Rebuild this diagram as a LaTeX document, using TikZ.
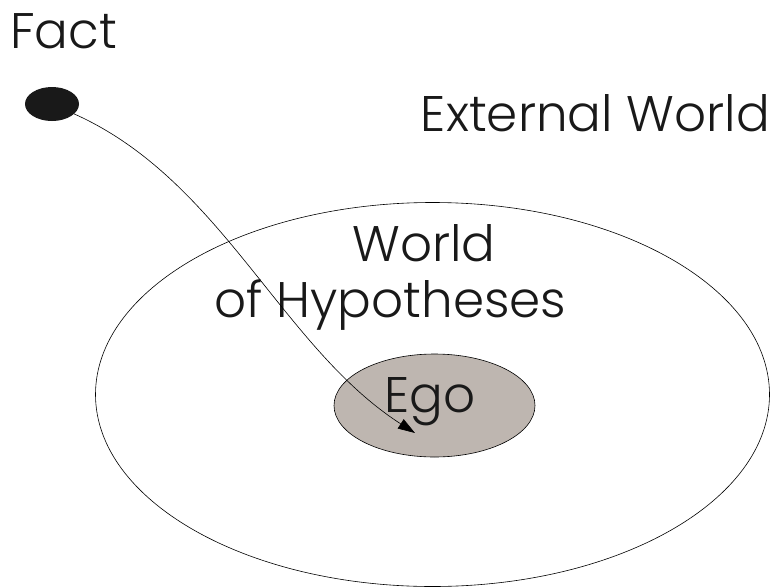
\documentclass[tikz,border=0pt]{standalone}
\usepackage{fontspec}
\setmainfont{Poppins Light}
\usetikzlibrary{shapes.geometric,arrows.meta}
\definecolor{egogray}{RGB}{190,182,176}
\tikzset{
  label text/.style={inner sep=0pt, anchor=base west, font=\fontsize{50}{54}\selectfont, text=black!90},
  thin line/.style={line width=0.6pt},
}
\begin{document}
\begin{tikzpicture}[x=1pt,y=-1pt]
\useasboundingbox (0,0) rectangle (772,587);
\node[ellipse, draw, thin line, minimum width=674pt, minimum height=384pt, inner sep=0pt] (world) at (432.5,394.5) {};
\node[ellipse, draw, thin line, fill=egogray, minimum width=201pt, minimum height=103pt, inner sep=0pt] (egoshape) at (434.5,405.5) {};
\node[label text, anchor=base] (ego) at (430,412) {Ego};
\node[label text, anchor=base] (hyp1) at (424,261) {World};
\node[label text, anchor=base] (hyp2) at (390.5,317) {of Hypotheses};
\node[label text, anchor=base east] (ext) at (770,131) {External World};
\node[label text] (factlabel) at (10,48) {Fact};
\node[ellipse, fill=black!90, minimum width=54pt, minimum height=34pt, inner sep=0pt] (fact) at (52,104) {};
\coordinate (tip) at (415,433);
\draw[thin line, -{Triangle[length=17pt,width=11pt]}] (fact) .. controls (222,180) and (281,347) .. (tip);
\end{tikzpicture}
\end{document}
